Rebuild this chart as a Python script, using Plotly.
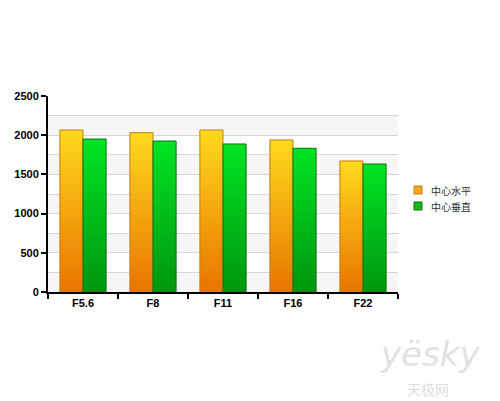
import plotly.graph_objects as go

categories = ["F5.6", "F8", "F11", "F16", "F22"]
series_names = ["中心水平", "中心垂直"]
horizontal = [2066, 2032, 2066, 1939, 1671]
vertical = [1951, 1926, 1888, 1833, 1633]
y_ticks = [0, 500, 1000, 1500, 2000, 2500]

colors = [
    dict(bottom="#E87400", top="#FFDA1E", line="#C87A10", legend="#F4AA1A"),
    dict(bottom="#00960E", top="#00E424", line="#0B700B", legend="#16B81E"),
]
bar_w = 0.33

W, H = 492, 393  # page body adds an 8px margin
L, T = 40, 88
PW, PH = 350, 196

fig = go.Figure()

# alternating background bands
for lo in range(0, 2500, 500):
    fig.add_shape(type="rect", xref="paper", x0=0, x1=1, yref="y", y0=lo, y1=lo + 250,
                  fillcolor="#F6F6F6", line_width=0, layer="below")

for s, vals in enumerate([horizontal, vertical]):
    c = colors[s]
    for i, v in enumerate(vals):
        x0 = i - bar_w if s == 0 else i
        x1 = x0 + bar_w
        fig.add_trace(go.Scatter(
            x=[x0, x0, x1, x1, x0], y=[0, v, v, 0, 0],
            mode="lines", fill="toself", name=series_names[s],
            fillgradient=dict(type="vertical", colorscale=[[0, c["bottom"]], [1, c["top"]]]),
            line=dict(color=c["line"], width=1),
            showlegend=False, hoverinfo="skip"))

# legend (drawn manually to match compact layout)
def px_x(px):
    return (px - 8 - L) / PW

def px_y(py):
    return (T + PH - (py - 8)) / PH

for s, name in enumerate(series_names):
    cy = 190 + 16 * s
    fig.add_shape(type="rect", xref="paper", yref="paper",
                  x0=px_x(414), x1=px_x(422), y0=px_y(cy + 4), y1=px_y(cy - 4),
                  fillcolor=colors[s]["legend"], line=dict(color=colors[s]["line"], width=1))
    fig.add_annotation(text=name, xref="paper", yref="paper", x=px_x(429), y=px_y(cy),
                       xanchor="left", yanchor="middle", showarrow=False,
                       font=dict(family="Noto Sans CJK SC", size=10, color="#333333"))

fig.update_layout(
    width=W, height=H,
    margin=dict(l=L, r=W - L - PW, t=T, b=H - T - PH, autoexpand=False),
    paper_bgcolor="white", plot_bgcolor="white",
    showlegend=False,
    xaxis=dict(range=[-0.5, 4.5], tickmode="array", tickvals=list(range(len(categories))),
               ticktext=categories, ticks="", showgrid=False, zeroline=False,
               showline=True, linecolor="black", linewidth=2,
               tickfont=dict(family="Liberation Sans", size=11, color="black", weight="bold"),
               minor=dict(tickmode="array", tickvals=[i - 0.5 for i in range(len(categories) + 1)],
                          ticks="outside", ticklen=5, tickwidth=2, tickcolor="black", showgrid=False)),
    yaxis=dict(range=[0, 2500], tickmode="array", tickvals=y_ticks,
               ticks="outside", ticklen=5, tickwidth=2, tickcolor="black",
               showline=True, linecolor="black", linewidth=2, zeroline=False,
               showgrid=True, gridcolor="#D6D6D6", gridwidth=1,
               minor=dict(dtick=250, showgrid=True, gridcolor="#D6D6D6", gridwidth=1),
               tickfont=dict(family="Liberation Sans", size=11, color="black", weight="bold")),
)

fig.add_annotation(text="<i>yësky</i>", xref="paper", yref="paper", x=px_x(482), y=px_y(354),
                   xanchor="right", yanchor="middle", showarrow=False,
                   font=dict(family="DejaVu Sans", size=34, color="#E2E2E2"))
fig.add_annotation(text="天极网", xref="paper", yref="paper", x=px_x(428), y=px_y(389),
                   xanchor="center", yanchor="middle", showarrow=False,
                   font=dict(family="Noto Sans CJK SC", size=14, color="#DDDDDD"))

fig.write_html("out.html")
